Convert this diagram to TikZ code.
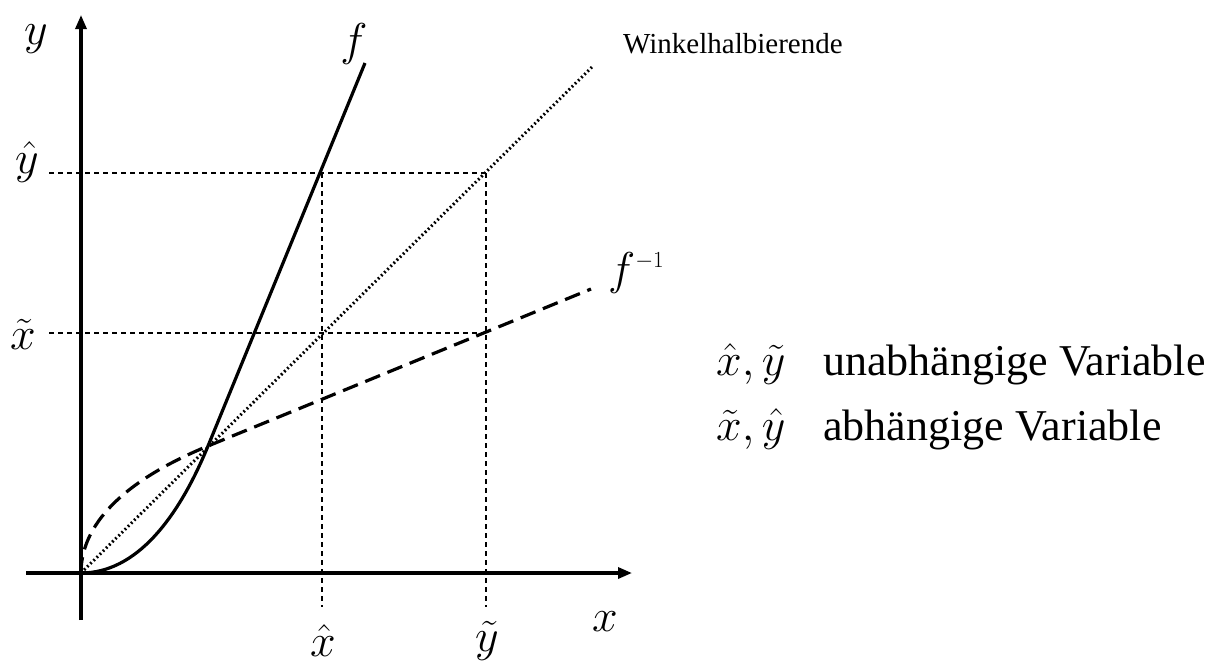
\RequirePackage{fix-cm}
\documentclass[tikz,border=0pt]{standalone}
\usepackage{fontspec}
\setmainfont{Liberation Serif}
\usetikzlibrary{arrows.meta}
\begin{document}
\begin{tikzpicture}[x=1pt,y=-1pt,
  lbl/.style={font=\fontsize{46}{50}\selectfont, inner sep=0pt, anchor=base},
  legend/.style={font=\fontsize{44}{50}\selectfont, inner sep=0pt, anchor=base west},
  axis/.style={line width=3.2pt, -{Triangle[length=14pt,width=11pt]}},
  guide/.style={line width=1.7pt, dash pattern=on 5pt off 4pt},
  curve/.style={line width=3.2pt},
  invcurve/.style={line width=3.2pt, dash pattern=on 16pt off 8pt},
  diag/.style={line width=3pt, dash pattern=on 1.8pt off 2.6pt}]
\useasboundingbox (0,0) rectangle (1222,664);
% key points
\coordinate (O) at (81,573);
\coordinate (xs) at (26,573);
\coordinate (xe) at (632,573);
\coordinate (ys) at (81,620);
\coordinate (ye) at (81,15);
\coordinate (S) at (208,446);
\coordinate (fEnd) at (365,63);
\coordinate (gEnd) at (591,289);
\coordinate (dEnd) at (592,67);
\coordinate (yhL) at (49,173);
\coordinate (yhR) at (486,173);
\coordinate (xtL) at (49,333);
\coordinate (xtR) at (486,333);
\coordinate (xhT) at (322,173);
\coordinate (xhB) at (322,607);
\coordinate (ytT) at (486,173);
\coordinate (ytB) at (486,607);
% guides
\draw[guide] (yhL) -- (yhR);
\draw[guide] (xtL) -- (xtR);
\draw[guide] (xhT) -- (xhB);
\draw[guide] (ytT) -- (ytB);
% axes
\draw[axis] (xs) -- (xe);
\draw[axis] (ys) -- (ye);
% curves
\draw[diag] (O) -- (dEnd);
\draw[curve] (O) .. controls (136,573) and (178,519) .. (S) -- (fEnd);
\draw[invcurve] (O) .. controls (81,518) and (135,476) .. (S) -- (gEnd);
% labels
\node[lbl] (ly) at (36,44) {$y$};
\node[lbl] (lyh) at (27,173) {$\hat{y}$};
\node[lbl] (lxt) at (23,349) {$\tilde{x}$};
\node[lbl] (lxh) at (323,656) {$\hat{x}$};
\node[lbl] (lyt) at (487,651) {$\tilde{y}$};
\node[lbl] (lx) at (605,631) {$x$};
\node[lbl] (lf) at (354,55) {$f$};
\node[lbl, anchor=base west] (lfi) at (608,284) {$f^{\scriptscriptstyle -1}$};
\node[font=\fontsize{29}{32}\selectfont, inner sep=0pt, anchor=base west] (wh) at (623,53) {Winkelhalbierende};
\node[lbl, anchor=base west] (m1) at (716,375) {$\hat{x},\tilde{y}$};
\node[legend] (t1) at (823,375) {unabhängige Variable};
\node[lbl, anchor=base west] (m2) at (716,440) {$\tilde{x},\hat{y}$};
\node[legend] (t2) at (823,440) {abhängige Variable};
\end{tikzpicture}
\end{document}
